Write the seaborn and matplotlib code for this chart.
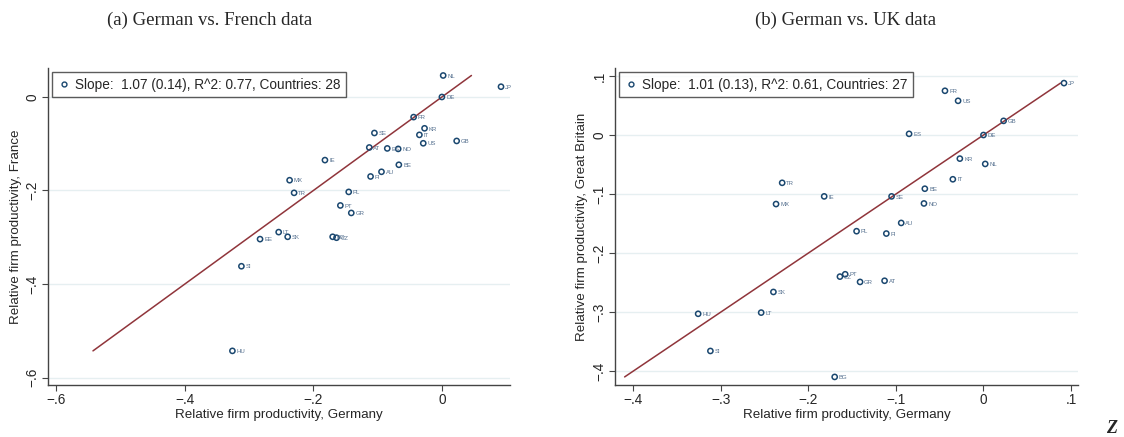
import matplotlib
matplotlib.use("Agg")
import matplotlib.pyplot as plt
from matplotlib.lines import Line2D
import seaborn as sns
import pandas as pd

# country codes and relative firm productivity
countries = ["NL", "JP", "DE", "FR", "KR", "IT", "US", "GB", "SE", "AT", "ES", "NO",
             "BE", "AU", "FI", "IE", "MX", "TR", "PL", "PT", "GR", "LT", "SK", "BG",
             "CZ", "EE", "SI", "HU"]
germany = [0.002, 0.092, 0.0, -0.044, -0.027, -0.035, -0.029, 0.023, -0.105, -0.113,
           -0.085, -0.068, -0.067, -0.094, -0.111, -0.182, -0.237, -0.230, -0.145,
           -0.158, -0.141, -0.254, -0.240, -0.170, -0.164, -0.283, -0.312, -0.326]
france = [0.046, 0.022, 0.0, -0.043, -0.067, -0.081, -0.099, -0.094, -0.077, -0.108,
          -0.110, -0.111, -0.145, -0.160, -0.170, -0.135, -0.178, -0.205, -0.203,
          -0.232, -0.248, -0.289, -0.299, -0.299, -0.301, -0.304, -0.362, -0.543]
uk = [-0.049, 0.088, 0.0, 0.075, -0.040, -0.075, 0.058, 0.024, -0.104, -0.247,
      0.002, -0.116, -0.091, -0.149, -0.167, -0.104, -0.117, -0.081, -0.163,
      -0.236, -0.249, -0.301, -0.266, -0.410, -0.240, None, -0.366, -0.303]

legend_a = "Slope:  1.07 (0.14), R^2: 0.77, Countries: 28"
legend_b = "Slope:  1.01 (0.13), R^2: 0.61, Countries: 27"

NAVY = "#1a476f"
MAROON = "#90353b"
LABEL_COL = "#55708f"
GRID = "#e6eff1"

sns.set_style("white")
plt.rcParams["font.family"] = ["Liberation Sans", "DejaVu Sans"]

df = pd.DataFrame({"country": countries, "germany": germany,
                   "france": france, "uk": uk})


def panel(ax, col, ylabel, legend_text, xlim, ylim, xticks, yticks, tick_fmt):
    d = df.dropna(subset=[col])
    # 45 degree line over the range of the y values
    lo, hi = d[col].min(), d[col].max()
    sns.lineplot(x=[lo, hi], y=[lo, hi], ax=ax, color=MAROON, linewidth=1.1)
    sns.scatterplot(data=d, x="germany", y=col, ax=ax, marker="o", s=14,
                    facecolor="none", edgecolor=NAVY, linewidth=1.1, zorder=3)
    for _, r in d.iterrows():
        ax.annotate(r["country"], (r["germany"], r[col]), xytext=(3, -0.5),
                    textcoords="offset points", fontsize=4.3, color=LABEL_COL,
                    va="center", ha="left")
    ax.set_xlim(xlim)
    ax.set_ylim(ylim)
    ax.set_xticks(xticks)
    ax.set_xticklabels([tick_fmt(v) for v in xticks])
    ax.set_yticks(yticks)
    ax.set_yticklabels([tick_fmt(v) for v in yticks], rotation=90, va="center")
    ax.yaxis.grid(True, color=GRID, linewidth=1)
    ax.xaxis.grid(False)
    for s in ["top", "right"]:
        ax.spines[s].set_visible(False)
    for s in ["left", "bottom"]:
        ax.spines[s].set_color("#444444")
        ax.spines[s].set_linewidth(1.0)
    ax.tick_params(axis="both", direction="out", length=4, width=0.8,
                   color="#444444", labelsize=9.8, pad=2, left=True, bottom=True)
    ax.set_xlabel("Relative firm productivity, Germany", fontsize=9.6, labelpad=1)
    ax.set_ylabel(ylabel, fontsize=9.6, labelpad=3)
    handle = Line2D([], [], marker="o", linestyle="none", markersize=3.5,
                    markerfacecolor="none", markeredgecolor=NAVY, markeredgewidth=1)
    leg = ax.legend([handle], [legend_text], loc="upper left", fontsize=9.8,
                    frameon=True, fancybox=False, borderpad=0.4, handletextpad=0.3,
                    handlelength=1.0, borderaxespad=0.3, bbox_to_anchor=(0.0, 1.0))
    leg.get_frame().set_edgecolor("#333333")
    leg.get_frame().set_linewidth(1.0)


def fmt(v):
    if abs(v) < 1e-9:
        return "0"
    s = f"{abs(v):.1f}".lstrip("0")
    return ("\u2212" if v < 0 else "") + s


fig = plt.figure(figsize=(11.24, 4.37), dpi=100)
ax1 = fig.add_axes([48 / 1124, 1 - 385 / 437, 462 / 1124, 317 / 437])
ax2 = fig.add_axes([615 / 1124, 1 - 385 / 437, 463 / 1124, 317 / 437])

panel(ax1, "france", "Relative firm productivity, France", legend_a,
      (-0.613, 0.106), (-0.616, 0.062), [-0.6, -0.4, -0.2, 0.0],
      [-0.6, -0.4, -0.2, 0.0], fmt)
panel(ax2, "uk", "Relative firm productivity, Great Britain", legend_b,
      (-0.421, 0.108), (-0.4237, 0.1136), [-0.4, -0.3, -0.2, -0.1, 0.0, 0.1],
      [-0.4, -0.3, -0.2, -0.1, 0.0, 0.1], fmt)

fig.text(210 / 1124, 1 - 20 / 437, "(a) German vs. French data", ha="center",
         va="center", fontsize=13.5, family="Liberation Serif")
fig.text(846 / 1124, 1 - 20 / 437, "(b) German vs. UK data", ha="center",
         va="center", fontsize=13.5, family="Liberation Serif")
fig.text(1106 / 1124, 1 - 433 / 437, "Z", ha="left", va="baseline",
         fontsize=13, family="Liberation Serif", style="italic", weight="bold")

fig.savefig("out.png", dpi=100)
